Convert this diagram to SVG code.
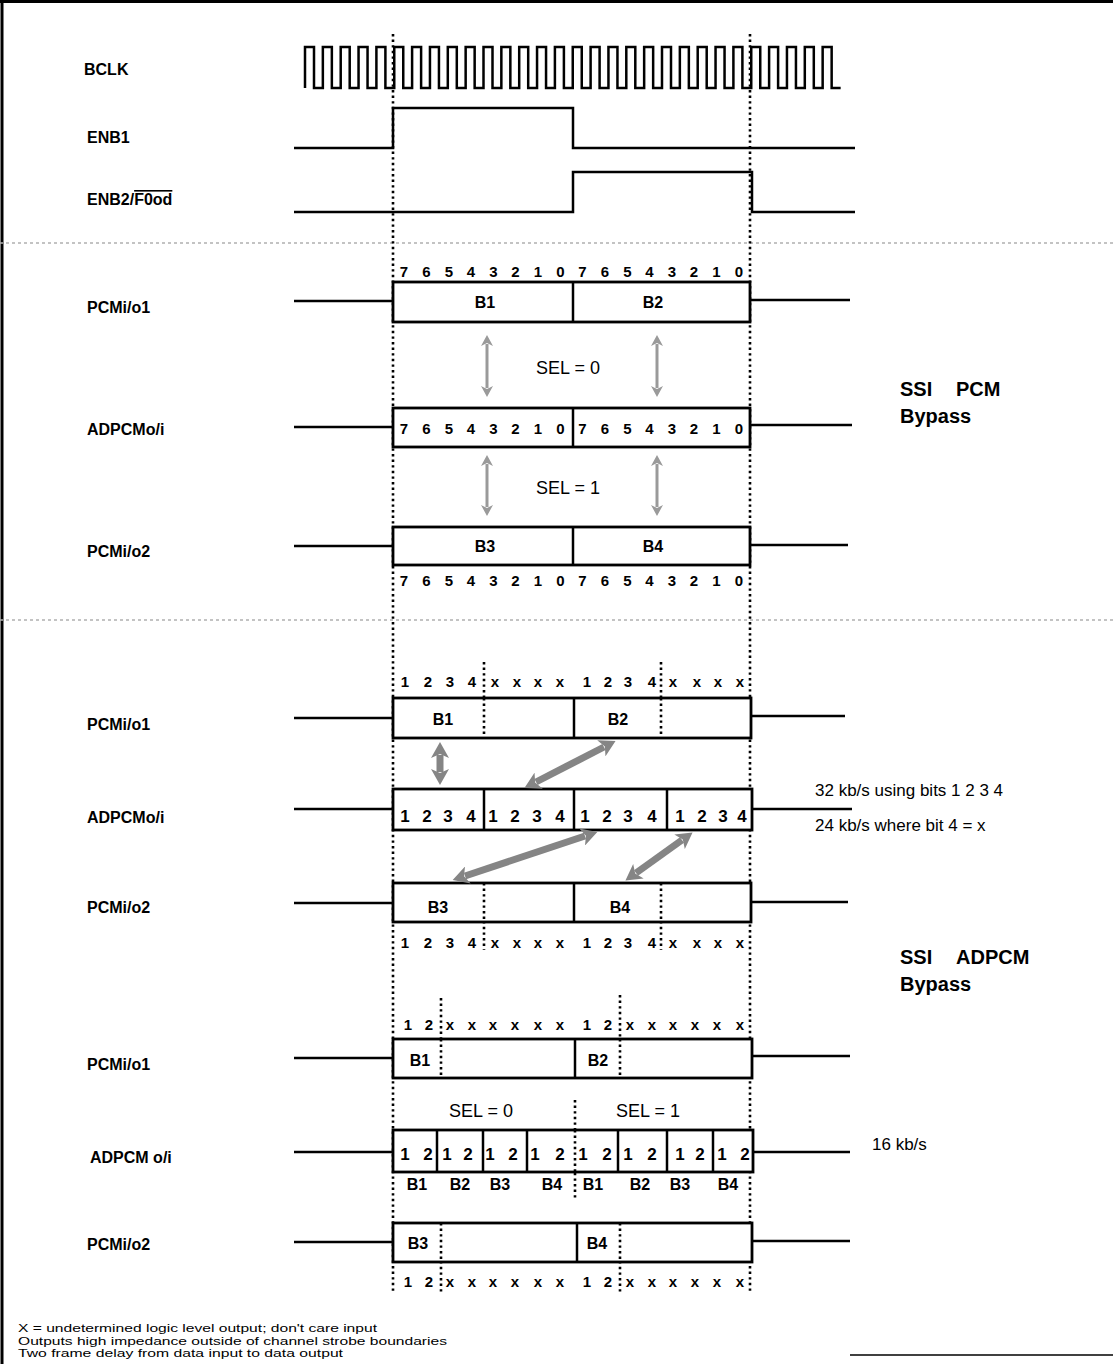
<svg xmlns="http://www.w3.org/2000/svg" width="1113" height="1364" viewBox="0 0 1113 1364">
<style>
.lbl{font-family:"Liberation Sans",Arial,sans-serif;font-weight:bold;font-size:16px;fill:#000}
.bit{font-family:"Liberation Sans",Arial,sans-serif;font-weight:bold;font-size:15px;fill:#000;text-anchor:middle}
.bitL{font-family:"Liberation Sans",Arial,sans-serif;font-weight:bold;font-size:17px;fill:#000;text-anchor:middle}
.bx{font-family:"Liberation Sans",Arial,sans-serif;font-weight:bold;font-size:16px;fill:#000;text-anchor:middle}
.sel{font-family:"Liberation Sans",Arial,sans-serif;font-size:18px;fill:#000;text-anchor:middle}
.big{font-family:"Liberation Sans",Arial,sans-serif;font-weight:bold;font-size:20px;fill:#000}
.note{font-family:"Liberation Sans",Arial,sans-serif;font-size:17px;fill:#000}
.foot{font-family:"Liberation Sans",Arial,sans-serif;font-size:11.5px;fill:#000}
.w{fill:none;stroke:#000;stroke-width:2.5}
.box{fill:#fff;stroke:#000;stroke-width:2.8}
.dv{fill:none;stroke:#000;stroke-width:2.5}
.dot{fill:none;stroke:#000;stroke-width:2.6;stroke-dasharray:2.4 3.2}
.sep{fill:none;stroke:#b0b0b0;stroke-width:1.6;stroke-dasharray:3 3}
.thin{fill:none;stroke:#9a9a9a;stroke-width:3;marker-start:url(#ahs);marker-end:url(#ahs)}
.thick{fill:none;stroke:#858585;stroke-width:7;marker-start:url(#ahb);marker-end:url(#ahb)}
</style>
<defs>
<marker id="ahs" markerUnits="userSpaceOnUse" markerWidth="12" markerHeight="12" viewBox="0 0 12 12" refX="2" refY="6" orient="auto-start-reverse">
<path d="M0,0 L11,6 L0,12 L3,6 z" fill="#9a9a9a"/>
</marker>
<marker id="ahb" markerUnits="userSpaceOnUse" markerWidth="18" markerHeight="18" viewBox="0 0 18 18" refX="3" refY="9" orient="auto-start-reverse">
<path d="M0,0 L16,9 L0,18 L4,9 z" fill="#858585"/>
</marker>
</defs>
<rect width="1113" height="1364" fill="#fff"/>
<g id="frame">
<line x1="0" y1="1.5" x2="1113" y2="1.5" stroke="#000" stroke-width="3"/>
<line x1="2" y1="0" x2="2" y2="1364" stroke="#000" stroke-width="3"/>
<line x1="850" y1="1355" x2="1113" y2="1355" stroke="#000" stroke-width="1.5"/>
<line class="sep" x1="0" y1="243" x2="1113" y2="243"/>
<line class="sep" x1="0" y1="620" x2="1113" y2="620"/>
</g>
<g id="guides">
<line class="dot" x1="393" y1="34" x2="393" y2="1292"/>
<line class="dot" x1="750" y1="34" x2="750" y2="1292"/>
<line class="dot" x1="484" y1="662" x2="484" y2="738"/>
<line class="dot" x1="661" y1="662" x2="661" y2="738"/>
<line class="dot" x1="484" y1="882" x2="484" y2="950"/>
<line class="dot" x1="661" y1="882" x2="661" y2="950"/>
<line class="dot" x1="441" y1="998" x2="441" y2="1078"/>
<line class="dot" x1="620" y1="995" x2="620" y2="1078"/>
<line class="dot" x1="441" y1="1222" x2="441" y2="1292"/>
<line class="dot" x1="620" y1="1222" x2="620" y2="1292"/>
<line class="dot" x1="575" y1="1100" x2="575" y2="1200"/>
</g>
<g id="bclk">
<text class="lbl" x="84" y="75">BCLK</text>
<path class="w" d="M305,88 v-41h9v41h8.85 v-41h9v41h8.85 v-41h9v41h8.85 v-41h9v41h8.85 v-41h9v41h8.85 v-41h9v41h8.85 v-41h9v41h8.85 v-41h9v41h8.85 v-41h9v41h8.85 v-41h9v41h8.85 v-41h9v41h8.85 v-41h9v41h8.85 v-41h9v41h8.85 v-41h9v41h8.85 v-41h9v41h8.85 v-41h9v41h8.85 v-41h9v41h8.85 v-41h9v41h8.85 v-41h9v41h8.85 v-41h9v41h8.85 v-41h9v41h8.85 v-41h9v41h8.85 v-41h9v41h8.85 v-41h9v41h8.85 v-41h9v41h8.85 v-41h9v41h8.85 v-41h9v41h8.85 v-41h9v41h8.85 v-41h9v41h8.85 v-41h9v41h9"/>
</g>
<g id="enb1">
<text class="lbl" x="87" y="143">ENB1</text>
<path class="w" d="M294,148 H393 V108 H573 V148 H855"/>
</g>
<g id="enb2">
<text class="lbl" x="87" y="205">ENB2/<tspan style="text-decoration:overline">F0od</tspan></text>
<path class="w" d="M294,212 H573 V172 H752 V212 H855"/>
</g>
<g id="pcm-bypass">
<text class="bit" x="404 426.5 449 471 493.5 515.5 538 560.5 582.5 605 627.5 649.5 672 694 716.5 739" y="277">7654321076543210</text>
<g id="pcm-pcmio1">
<text class="lbl" x="87" y="313">PCMi/o1</text>
<line class="w" x1="294" y1="301" x2="393" y2="301"/>
<line class="w" x1="750" y1="300" x2="850" y2="300"/>
<rect class="box" x="393" y="282" width="357" height="40"/>
<line class="dv" x1="573" y1="282" x2="573" y2="322"/>
<text class="bx" x="485" y="308">B1</text>
<text class="bx" x="653" y="308">B2</text>
</g>
<g id="pcm-adpcmoi">
<text class="lbl" x="87" y="435">ADPCMo/i</text>
<line class="w" x1="294" y1="427" x2="393" y2="427"/>
<line class="w" x1="750" y1="425" x2="852" y2="425"/>
<rect class="box" x="393" y="408" width="357" height="39"/>
<line class="dv" x1="573" y1="408" x2="573" y2="447"/>
<text class="bit" x="404 426.5 449 471 493.5 515.5 538 560.5 582.5 605 627.5 649.5 672 694 716.5 739" y="434">7654321076543210</text>
</g>
<g id="pcm-pcmio2">
<text class="lbl" x="87" y="557">PCMi/o2</text>
<line class="w" x1="294" y1="546" x2="393" y2="546"/>
<line class="w" x1="750" y1="545" x2="848" y2="545"/>
<rect class="box" x="393" y="527" width="357" height="38"/>
<line class="dv" x1="573" y1="527" x2="573" y2="565"/>
<text class="bx" x="485" y="552">B3</text>
<text class="bx" x="653" y="552">B4</text>
</g>
<text class="bit" x="404 426.5 449 471 493.5 515.5 538 560.5 582.5 605 627.5 649.5 672 694 716.5 739" y="586">7654321076543210</text>
<text class="sel" x="568" y="374">SEL = 0</text>
<text class="sel" x="568" y="494">SEL = 1</text>
<text class="big" x="900" y="396">SSI</text>
<text class="big" x="956" y="396">PCM</text>
<text class="big" x="900" y="423">Bypass</text>
</g>
<g id="adpcm-bypass">
<text class="bit" x="405 428 450 472 495 517 538 560 587 608 628 652 673 697 718 740" y="687">1234xxxx1234xxxx</text>
<g id="ad-pcmio1">
<text class="lbl" x="87" y="730">PCMi/o1</text>
<line class="w" x1="294" y1="718" x2="393" y2="718"/>
<line class="w" x1="751" y1="716" x2="845" y2="716"/>
<rect class="box" x="393" y="698" width="358" height="40"/>
<line class="dv" x1="574" y1="698" x2="574" y2="738"/>
<line class="dot" x1="484" y1="698" x2="484" y2="738"/>
<line class="dot" x1="661" y1="698" x2="661" y2="738"/>
<text class="bx" x="443" y="725">B1</text>
<text class="bx" x="618" y="725">B2</text>
</g>
<g id="ad-adpcmoi">
<text class="lbl" x="87" y="823">ADPCMo/i</text>
<line class="w" x1="294" y1="809" x2="393" y2="809"/>
<line class="w" x1="752" y1="809" x2="852" y2="809"/>
<rect class="box" x="393" y="789" width="359" height="41"/>
<line class="dv" x1="484" y1="789" x2="484" y2="830"/>
<line class="dv" x1="574" y1="789" x2="574" y2="830"/>
<line class="dv" x1="667" y1="789" x2="667" y2="830"/>
<text class="bitL" x="405 427 448 471 493 515 537 560 585 607 628 652 680 702 723 742" y="822">1234123412341234</text>
</g>
<g id="ad-pcmio2">
<text class="lbl" x="87" y="913">PCMi/o2</text>
<line class="w" x1="294" y1="903" x2="393" y2="903"/>
<line class="w" x1="751" y1="902" x2="848" y2="902"/>
<rect class="box" x="393" y="883" width="358" height="39"/>
<line class="dv" x1="574" y1="883" x2="574" y2="922"/>
<line class="dot" x1="484" y1="883" x2="484" y2="922"/>
<line class="dot" x1="661" y1="883" x2="661" y2="922"/>
<text class="bx" x="438" y="913">B3</text>
<text class="bx" x="620" y="913">B4</text>
</g>
<text class="bit" x="405 428 450 472 495 517 538 560 587 608 628 652 673 697 718 740" y="948">1234xxxx1234xxxx</text>
<text class="note" x="815" y="796">32 kb/s using bits 1 2 3 4</text>
<text class="note" x="815" y="831">24 kb/s where bit 4 = x</text>
<text class="big" x="900" y="964">SSI</text>
<text class="big" x="956" y="964">ADPCM</text>
<text class="big" x="900" y="991">Bypass</text>
</g>
<g id="kb16">
<text class="bit" x="408 429 450 472 493 515 538 560 587 608 630 652 673 695 717 740" y="1030">12xxxxxx12xxxxxx</text>
<g id="k-pcmio1">
<text class="lbl" x="87" y="1070">PCMi/o1</text>
<line class="w" x1="294" y1="1058" x2="393" y2="1058"/>
<line class="w" x1="752" y1="1056" x2="850" y2="1056"/>
<rect class="box" x="393" y="1039" width="359" height="39"/>
<line class="dv" x1="575" y1="1039" x2="575" y2="1078"/>
<line class="dot" x1="441" y1="1039" x2="441" y2="1078"/>
<line class="dot" x1="620" y1="1039" x2="620" y2="1078"/>
<text class="bx" x="420" y="1066">B1</text>
<text class="bx" x="598" y="1066">B2</text>
</g>
<text class="sel" x="481" y="1117">SEL = 0</text>
<text class="sel" x="648" y="1117">SEL = 1</text>
<g id="k-adpcmoi">
<text class="lbl" x="90" y="1163">ADPCM o/i</text>
<line class="w" x1="294" y1="1152" x2="393" y2="1152"/>
<line class="w" x1="753" y1="1152" x2="850" y2="1152"/>
<rect class="box" x="393" y="1130" width="360" height="42"/>
<line class="dv" x1="437" y1="1130" x2="437" y2="1172"/>
<line class="dv" x1="483" y1="1130" x2="483" y2="1172"/>
<line class="dv" x1="527" y1="1130" x2="527" y2="1172"/>
<line class="dot" x1="575" y1="1130" x2="575" y2="1172"/>
<line class="dv" x1="618" y1="1130" x2="618" y2="1172"/>
<line class="dv" x1="667" y1="1130" x2="667" y2="1172"/>
<line class="dv" x1="713" y1="1130" x2="713" y2="1172"/>
<text class="bitL" x="405 428 447 468 490 513 535 560 583 607 628 652 680 700 722 745" y="1160">1212121212121212</text>
<text class="bx" y="1190"><tspan x="417">B1</tspan><tspan x="460">B2</tspan><tspan x="500">B3</tspan><tspan x="552">B4</tspan><tspan x="593">B1</tspan><tspan x="640">B2</tspan><tspan x="680">B3</tspan><tspan x="728">B4</tspan></text>
</g>
<text class="note" x="872" y="1150">16 kb/s</text>
<g id="k-pcmio2">
<text class="lbl" x="87" y="1250">PCMi/o2</text>
<line class="w" x1="294" y1="1242" x2="393" y2="1242"/>
<line class="w" x1="752" y1="1241" x2="850" y2="1241"/>
<rect class="box" x="393" y="1223" width="359" height="39"/>
<line class="dv" x1="577" y1="1223" x2="577" y2="1262"/>
<line class="dot" x1="441" y1="1223" x2="441" y2="1262"/>
<line class="dot" x1="620" y1="1223" x2="620" y2="1262"/>
<text class="bx" x="418" y="1249">B3</text>
<text class="bx" x="597" y="1249">B4</text>
</g>
<text class="bit" x="408 429 450 472 493 515 538 560 587 608 630 652 673 695 717 740" y="1287">12xxxxxx12xxxxxx</text>
</g>
<g id="connectors">
<line class="thin" x1="487" y1="344" x2="487" y2="388"/>
<line class="thin" x1="657" y1="344" x2="657" y2="388"/>
<line class="thin" x1="487" y1="464" x2="487" y2="507"/>
<line class="thin" x1="657" y1="464" x2="657" y2="507"/>
<line class="thick" x1="440" y1="755" x2="440" y2="772"/>
<line class="thick" x1="604" y1="747" x2="536" y2="782"/>
<line class="thick" x1="585" y1="836" x2="465" y2="876"/>
<line class="thick" x1="682" y1="840" x2="636" y2="873"/>
</g>
<g id="notes">
<text class="foot" x="18" y="1332" textLength="359" lengthAdjust="spacingAndGlyphs">X = undetermined logic level output; don't care input</text>
<text class="foot" x="18" y="1344.5" textLength="429" lengthAdjust="spacingAndGlyphs">Outputs high impedance outside of channel strobe boundaries</text>
<text class="foot" x="18" y="1357" textLength="325" lengthAdjust="spacingAndGlyphs">Two frame delay from data input to data output</text>
</g>
</svg>
